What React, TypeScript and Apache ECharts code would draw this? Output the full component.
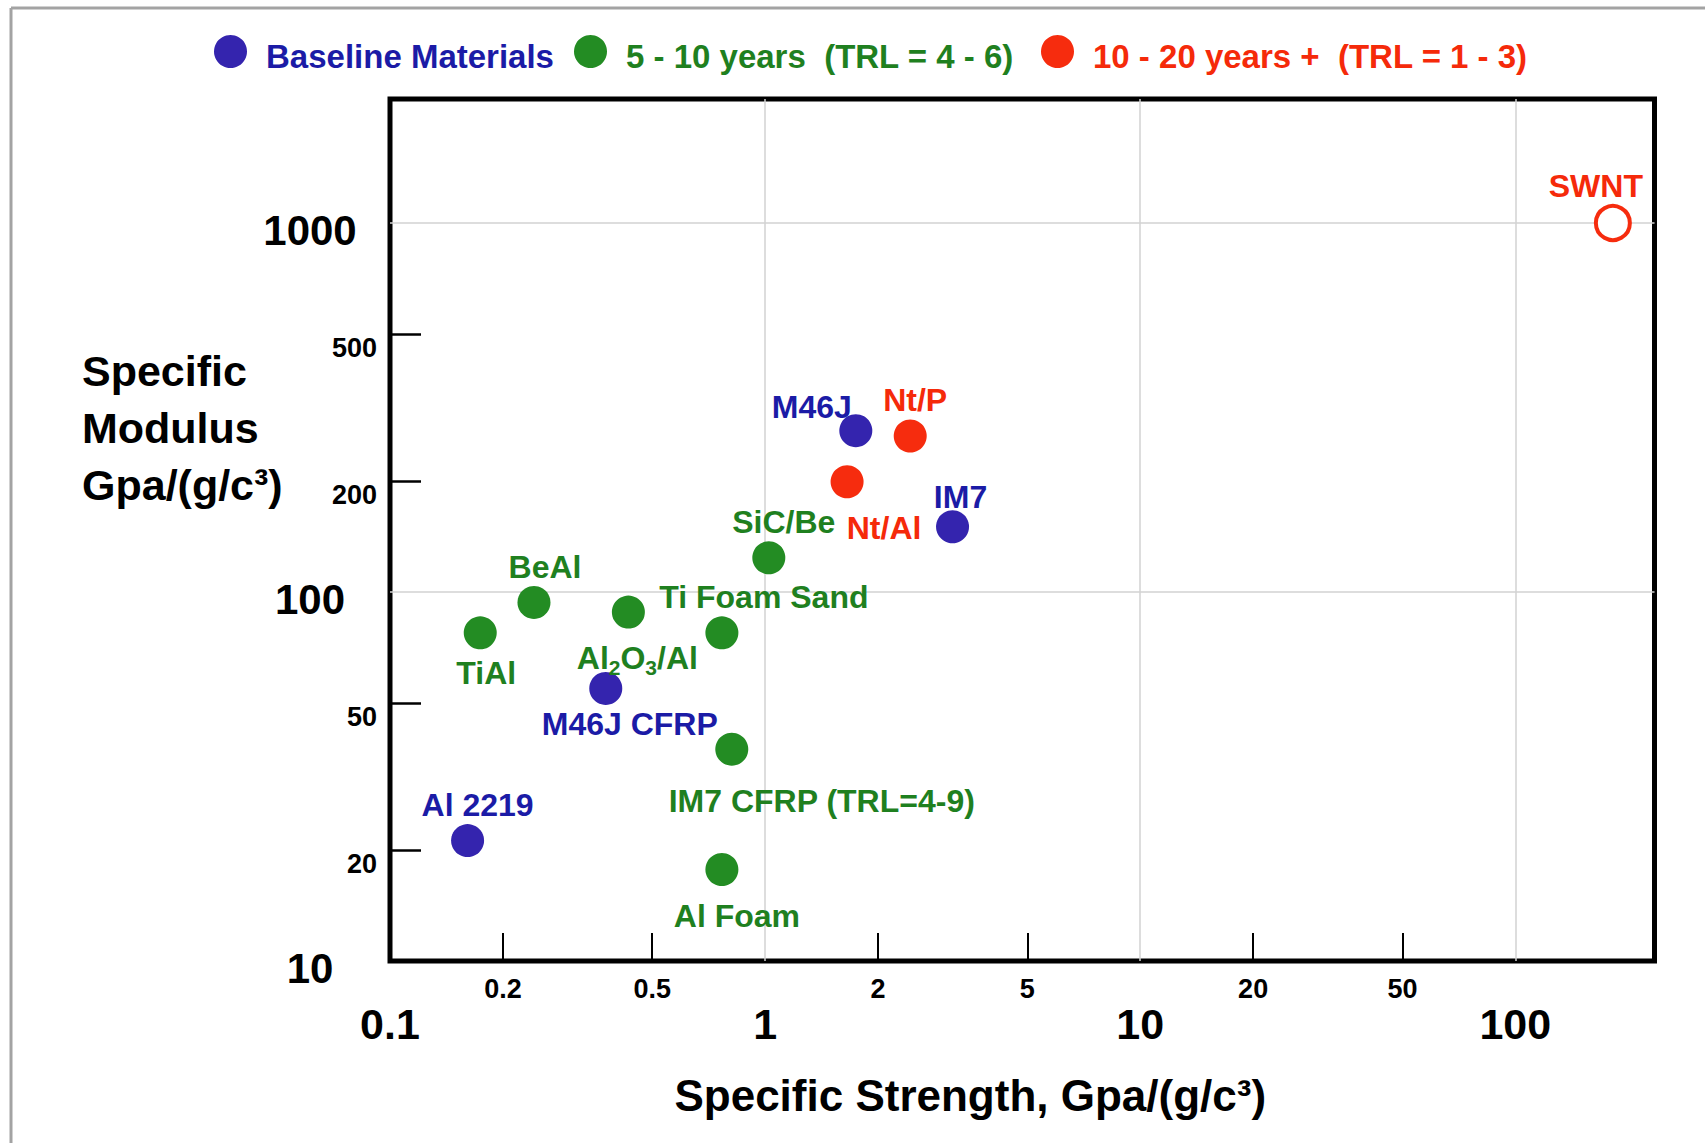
import React, { useEffect, useRef } from "react";
import * as echarts from "echarts";

// ---------- data ----------
const seriesNames = [
  "Baseline Materials",
  "5 - 10 years  (TRL = 4 - 6)",
  "10 - 20 years +  (TRL = 1 - 3)",
];

const baselineNames = ["Al 2219", "M46J CFRP", "M46J", "IM7"];
const baselineStrength = [0.161, 0.376, 1.745, 3.16];
const baselineModulus = [21.2, 54.8, 273.7, 150.3];

const nearNames = ["TiAl", "BeAl", "Al2O3/Al", "Ti Foam Sand", "SiC/Be", "IM7 CFRP (TRL=4-9)", "Al Foam"];
const nearStrength = [0.174, 0.242, 0.432, 0.767, 1.023, 0.815, 0.767];
const nearModulus = [77.5, 93.7, 88.2, 77.5, 123.8, 37.5, 17.7];

const farNames = ["Nt/P", "Nt/Al", "SWNT"];
const farStrength = [2.437, 1.654, 182];
const farModulus = [264.7, 199, 1000];

const xMajorTicks = [0.1, 1, 10, 100];
const xMinorTicks = [0.2, 0.5, 2, 5, 20, 50];
const yMajorTicks = [10, 100, 1000];
const yMinorTicks = [20, 50, 200, 500];

const xTitle = "Specific Strength, Gpa/(g/c³)";
const yTitle = "Specific\nModulus\nGpa/(g/c³)";

// ---------- layout / style ----------
const X_MIN = 0.1;
const X_MAX = 235;
const Y_MIN = 10;
const Y_MAX = 2168;

const sansFont = "'Liberation Sans', Arial, Helvetica, sans-serif";

const markerColors = ["#3424ae", "#238c23", "#f62c0e"];
const textColors = ["#1b1ba6", "#1f801f", "#f52a0a"];

const labelOffsets: Record<string, [number, number]> = {
  "Al 2219": [10, -36],
  "M46J CFRP": [24, 36],
  "M46J": [-44, -24],
  "IM7": [8, -30],
  "TiAl": [6, 40],
  "BeAl": [11, -35],
  "Al2O3/Al": [9, 46],
  "Ti Foam Sand": [42, -36],
  "SiC/Be": [15, -36],
  "IM7 CFRP (TRL=4-9)": [90, 52],
  "Al Foam": [15, 47],
  "Nt/P": [5, -36],
  "Nt/Al": [37, 46],
  "SWNT": [-17, -37],
};

const richLabels: Record<string, string> = {
  "Al2O3/Al": "{n|Al}{s|2}{n|O}{s|3}{n|/Al}",
};

const hollowPoints = new Set(["SWNT"]);

const legendLefts = [214, 574, 1041];

function buildData(names: string[], xs: number[], ys: number[], idx: number) {
  return names.map((n, i) => {
    const item: any = {
      name: n,
      value: [xs[i], ys[i]],
      label: { offset: labelOffsets[n] || [0, -34] },
    };
    if (hollowPoints.has(n)) {
      item.itemStyle = { color: "#ffffff", borderColor: markerColors[idx], borderWidth: 4 };
      item.symbolSize = 34;
    }
    return item;
  });
}

function makeSeries(idx: number, names: string[], xs: number[], ys: number[]) {
  const color = textColors[idx];
  return {
    type: "scatter",
    name: seriesNames[idx],
    xAxisIndex: 0,
    yAxisIndex: 0,
    symbol: "circle",
    symbolSize: 33,
    itemStyle: { color: markerColors[idx], opacity: 1 },
    emphasis: { disabled: true },
    label: {
      show: true,
      position: "inside",
      color,
      fontSize: 32,
      fontWeight: "bold",
      fontFamily: sansFont,
      formatter: (p: any) => richLabels[p.name] || "{n|" + p.name + "}",
      rich: {
        n: { fontSize: 32, fontWeight: "bold", fontFamily: sansFont, color, lineHeight: 40 },
        s: { fontSize: 21, fontWeight: "bold", fontFamily: sansFont, color, lineHeight: 20, verticalAlign: "bottom" },
      },
    },
    data: buildData(names, xs, ys, idx),
  };
}

const fmt = (v: number) => String(v);

const option: any = {
  animation: false,
  backgroundColor: "#ffffff",
  title: [
    {
      text: yTitle,
      left: 82,
      top: 342,
      padding: 0,
      textStyle: { fontSize: 43, fontWeight: "bold", fontFamily: sansFont, color: "#000", lineHeight: 57 },
    },
  ],
  legend: seriesNames.map((n, i) => ({
    data: [{ name: n }],
    left: legendLefts[i],
    top: 35,
    padding: 0,
    icon: "circle",
    itemWidth: 33,
    itemHeight: 33,
    selectedMode: false,
    formatter: "{t|{name}}",
    textStyle: {
      fontSize: 33,
      fontWeight: "bold",
      fontFamily: sansFont,
      color: textColors[i],
      rich: {
        t: {
          fontSize: 33,
          fontWeight: "bold",
          fontFamily: sansFont,
          color: textColors[i],
          padding: [10, 0, 0, 14],
        },
      },
    },
  })),
  grid: {
    left: 390,
    top: 99,
    right: 50.5,
    bottom: 182,
    show: true,
    borderColor: "#000",
    borderWidth: 5,
    backgroundColor: "transparent",
  },
  xAxis: [
    {
      type: "log",
      logBase: 10,
      min: X_MIN,
      max: X_MAX,
      position: "bottom",
      axisLine: { show: false },
      axisTick: { show: false, customValues: [1, 10, 100] },
      splitLine: { show: true, lineStyle: { color: "#d2d2d2", width: 1.5 } },
      minorTick: { show: false },
      minorSplitLine: { show: false },
      axisLabel: {
        customValues: xMajorTicks,
        formatter: fmt,
        fontSize: 43,
        fontWeight: "bold",
        fontFamily: sansFont,
        color: "#000",
        margin: 41,
        lineHeight: 44,
      },
      name: xTitle,
      nameLocation: "middle",
      nameGap: 106,
      nameTextStyle: {
        fontSize: 44,
        fontWeight: "bold",
        fontFamily: sansFont,
        color: "#000",
        lineHeight: 56,
        padding: [0, 104, 0, 0],
      },
    },
    {
      type: "log",
      logBase: 10,
      min: X_MIN,
      max: X_MAX,
      position: "bottom",
      axisLine: { show: false },
      axisTick: {
        show: true,
        inside: true,
        length: 28,
        customValues: xMinorTicks,
        lineStyle: { color: "#000", width: 2 },
      },
      splitLine: { show: false },
      minorTick: { show: false },
      axisLabel: {
        customValues: xMinorTicks,
        formatter: fmt,
        fontSize: 27,
        fontWeight: "bold",
        fontFamily: sansFont,
        color: "#000",
        margin: 14,
        lineHeight: 28,
      },
    },
  ],
  yAxis: [
    {
      type: "log",
      logBase: 10,
      min: Y_MIN,
      max: Y_MAX,
      position: "left",
      axisLine: { show: false },
      axisTick: { show: false, customValues: [100, 1000] },
      splitLine: { show: true, lineStyle: { color: "#d2d2d2", width: 1.5 } },
      minorTick: { show: false },
      axisLabel: {
        customValues: yMajorTicks,
        formatter: fmt,
        fontSize: 42,
        fontWeight: "bold",
        fontFamily: sansFont,
        color: "#000",
        margin: 80,
        align: "center",
        verticalAlign: "top",
        lineHeight: 14,
      },
    },
    {
      type: "log",
      logBase: 10,
      min: Y_MIN,
      max: Y_MAX,
      position: "left",
      axisLine: { show: false },
      axisTick: {
        show: true,
        inside: true,
        length: 31,
        customValues: yMinorTicks,
        lineStyle: { color: "#000", width: 2.5 },
      },
      splitLine: { show: false },
      minorTick: { show: false },
      axisLabel: {
        customValues: yMinorTicks,
        formatter: fmt,
        fontSize: 27,
        fontWeight: "bold",
        fontFamily: sansFont,
        color: "#000",
        margin: 13,
        verticalAlign: "top",
        lineHeight: 28,
      },
    },
  ],
  graphic: [
    {
      type: "line",
      silent: true,
      shape: { x1: 11, y1: 8, x2: 11, y2: 1143 },
      style: { stroke: "#a3a3a3", lineWidth: 3 },
    },
    {
      type: "line",
      silent: true,
      shape: { x1: 11, y1: 8, x2: 1705, y2: 8 },
      style: { stroke: "#a3a3a3", lineWidth: 3 },
    },
  ],
  series: [
    makeSeries(0, baselineNames, baselineStrength, baselineModulus),
    makeSeries(1, nearNames, nearStrength, nearModulus),
    makeSeries(2, farNames, farStrength, farModulus),
  ],
};

export default function App() {
  const ref = useRef<HTMLDivElement>(null);
  useEffect(() => {
    if (!ref.current) return;
    const chart = echarts.init(ref.current, null, { renderer: "svg" });
    chart.setOption(option);
    return () => chart.dispose();
  }, []);
  return (
    <div
      ref={ref}
      style={{ position: "absolute", left: 0, top: 0, width: 1705, height: 1143, background: "#fff" }}
    />
  );
}
